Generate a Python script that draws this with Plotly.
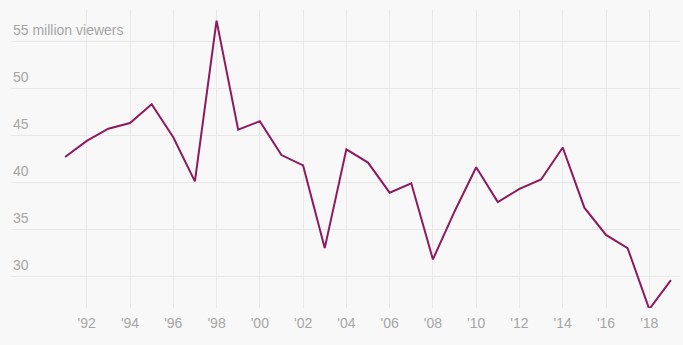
import plotly.graph_objects as go

# Oscars telecast audience, millions of viewers
years = list(range(1991, 2020))
viewers = [42.7, 44.4, 45.7, 46.3, 48.3, 44.8, 40.1, 57.2, 45.6, 46.5,
           42.9, 41.8, 33.0, 43.5, 42.1, 38.9, 39.9, 31.8, 36.9, 41.6,
           37.9, 39.3, 40.3, 43.7, 37.3, 34.4, 33.0, 26.5, 29.6]

x_ticks = list(range(1992, 2020, 2))
x_labels = ["'" + str(y)[2:] for y in x_ticks]
y_ticks = [30, 35, 40, 45, 50, 55]
y_labels = ["30", "35", "40", "45", "50", "55 million viewers"]

LINE = "#8c1a5d"
GRID = "#e8e8e8"
LABEL = "#a6a6a6"
BG = "#f8f8f8"
FONT = "Liberation Sans, Arial, sans-serif"

fig = go.Figure()
fig.add_trace(go.Scatter(
    x=years, y=viewers, mode="lines",
    line=dict(color=LINE, width=2),
    hoverinfo="x+y",
))

for v, t in zip(y_ticks, y_labels):
    fig.add_annotation(
        x=0, xref="paper", y=v, yref="y", text=t, showarrow=False,
        xanchor="left", yanchor="bottom", yshift=1,
        font=dict(family=FONT, size=14, color=LABEL),
    )

fig.update_layout(
    width=683, height=345,
    margin=dict(l=11, r=3, t=10, b=37),
    paper_bgcolor=BG, plot_bgcolor=BG,
    showlegend=False,
    font=dict(family=FONT, size=14, color=LABEL),
    xaxis=dict(
        range=[1988.5, 2019.42],
        tickvals=x_ticks, ticktext=x_labels,
        showgrid=True, gridcolor=GRID, gridwidth=1,
        zeroline=False, showline=False, ticks="",
        ticklabelstandoff=5,
        tickfont=dict(family=FONT, size=14, color=LABEL),
    ),
    yaxis=dict(
        range=[26.63, 58.33],
        tickvals=y_ticks, showticklabels=False,
        showgrid=True, gridcolor=GRID, gridwidth=1,
        zeroline=False, showline=False, ticks="",
    ),
)

fig.write_html("out.html")
